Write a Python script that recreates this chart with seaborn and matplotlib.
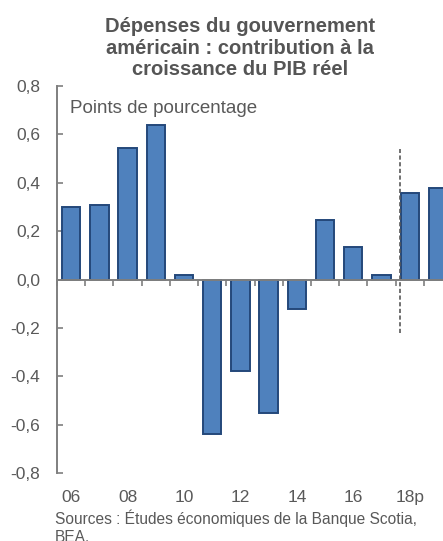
import matplotlib
matplotlib.use("Agg")
import matplotlib.pyplot as plt
import seaborn as sns
import pandas as pd
import numpy as np
from matplotlib.ticker import FixedLocator, FuncFormatter

# Data
years = ['06', '07', '08', '09', '10', '11', '12', '13', '14', '15', '16', '17', '18', '19']
contrib = [0.30, 0.31, 0.544, 0.638, 0.017, -0.640, -0.377, -0.550, -0.120, 0.248, 0.134, 0.020, 0.356, 0.377]
label_years = ['06', '08', '10', '12', '14', '16', '18']
label_text = ['06', '08', '10', '12', '14', '16', '18p']
yticks = [-0.8, -0.6, -0.4, -0.2, 0.0, 0.2, 0.4, 0.6, 0.8]
forecast_start = '18'

sns.set_theme(style="white")
plt.rcParams['font.family'] = ['Liberation Sans', 'DejaVu Sans']

grey = '#595959'
fig = plt.figure(figsize=(4.43, 5.41), dpi=100)
ax = fig.add_axes([0.1287, 0.1257, 0.8916, 0.7153])

df = pd.DataFrame({'year': years, 'value': contrib})
sns.barplot(data=df, x='year', y='value', order=years, color='#4F81BD',
            saturation=1, width=0.65, edgecolor='#24487A', linewidth=1.4, ax=ax)

n = len(years)
ax.set_xlim(-0.5, n - 0.5)
ax.set_ylim(-0.8, 0.8)
ax.set_xlabel('')
ax.set_ylabel('')

# x axis: spine on zero line, tick marks between categories
ax.spines['bottom'].set_position(('data', 0))
ax.spines['bottom'].set_color('#7f7f7f')
ax.spines['bottom'].set_linewidth(1.4)
ax.spines['left'].set_color('#7f7f7f')
ax.spines['left'].set_linewidth(1.4)
for s in ['top', 'right']:
    ax.spines[s].set_visible(False)
ax.xaxis.set_major_locator(FixedLocator([]))
ax.xaxis.set_minor_locator(FixedLocator(np.arange(n) - 0.5))
ax.tick_params(axis='x', which='minor', direction='out', length=4, width=1.2,
               color='#7f7f7f', bottom=True)

# labels at bottom of plot
sec = ax.secondary_xaxis('bottom')
sec.set_xticks([years.index(y) for y in label_years])
sec.set_xticklabels(label_text)
sec.tick_params(length=0, labelsize=12.5, labelcolor=grey, pad=12)
sec.spines['bottom'].set_visible(False)

ax.yaxis.set_major_locator(FixedLocator(yticks))
ax.yaxis.set_major_formatter(FuncFormatter(lambda v, p: f"{v:.1f}".replace('.', ',')))
ax.tick_params(axis='y', direction='in', length=4, width=1.2, color='#7f7f7f',
               labelsize=12.5, labelcolor=grey, pad=12, left=True)

# forecast separator
xf = years.index(forecast_start) - 0.35
ax.vlines(xf, -0.22, 0.54, colors='#595959', linestyles=(0, (2.5, 1.5)), linewidth=1.2)

fig.text(0.542, 0.911, "Dépenses du gouvernement\naméricain : contribution à la\ncroissance du PIB réel",
         ha='center', va='center', fontsize=14.5, fontweight='bold', color='#555555',
         linespacing=1.15)
fig.text(0.158, 0.80, "Points de pourcentage", ha='left', va='center',
         fontsize=13.5, color=grey)
fig.text(0.124, 0.058, "Sources : Études économiques de la Banque Scotia,\nBEA.",
         ha='left', va='top', fontsize=11.2, color=grey, linespacing=1.25)

fig.savefig('out.png', dpi=100)
